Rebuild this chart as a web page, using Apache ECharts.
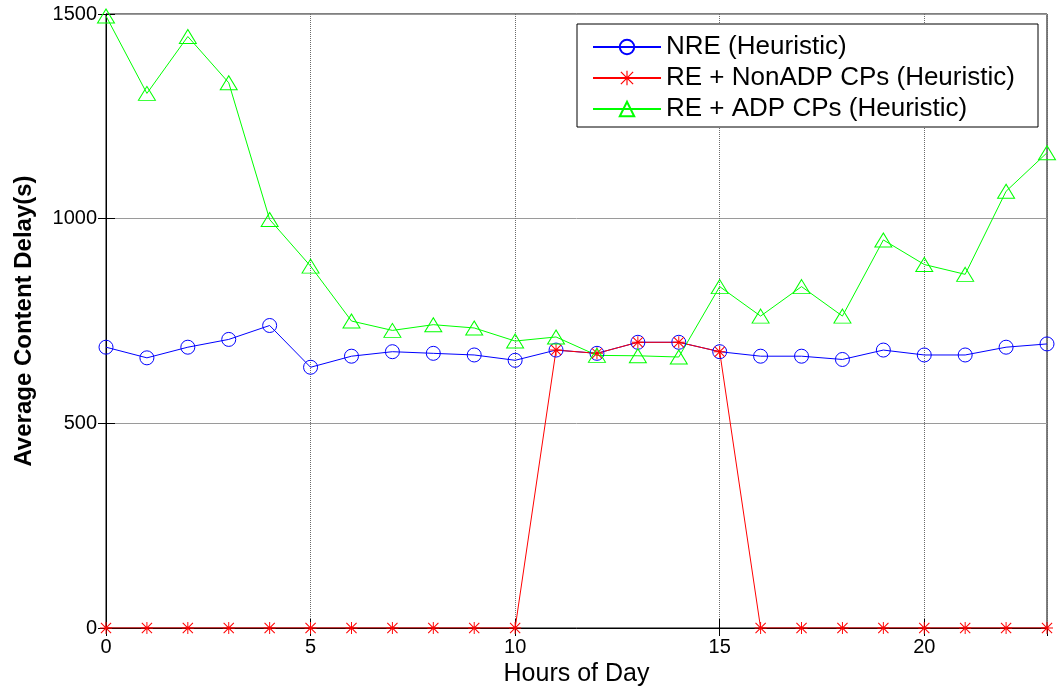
<!DOCTYPE html>
<html>
<head>
<meta charset="utf-8">
<script src="https://cdn.jsdelivr.net/npm/echarts@6/dist/echarts.min.js"></script>
<style>
html,body{margin:0;padding:0;background:#fff;}
#chart{width:1057px;height:694px;}
</style>
</head>
<body>
<div id="chart"></div>
<script>
// ---- data ----
var hours = [0,1,2,3,4,5,6,7,8,9,10,11,12,13,14,15,16,17,18,19,20,21,22,23];
var nreHeuristic = [686,660,686,705,739,637,664,675,671,667,654,679,671,698,698,675,664,664,656,679,667,667,686,694];
var reNonAdp = [0,0,0,0,0,0,0,0,0,0,0,679,671,698,698,675,0,0,0,0,0,0,0,0];
var reAdp = [1495,1306,1445,1332,998,884,750,727,741,733,701,711,666,665,662,834,762,834,762,948,888,864,1067,1161];
var seriesNames = ['NRE (Heuristic)', 'RE + NonADP CPs (Heuristic)', 'RE + ADP CPs (Heuristic)'];
var xTicks = [0,5,10,15,20];
var yTicks = [0,500,1000,1500];

function pairs(vals){ return hours.map(function(h,i){ return [h, vals[i]]; }); }

var starPath = 'path://M9.2,0L10.8,0L10.8,20L9.2,20Z M0,9.2L20,9.2L20,10.8L0,10.8Z M2.1,0.9L19.1,17.9L17.9,19.1L0.9,2.1Z M17.9,0.9L19.1,2.1L2.1,19.1L0.9,17.9Z';
var FONT = 'Arial, "Liberation Sans", Helvetica, sans-serif';

var chart = echarts.init(document.getElementById('chart'), null, {renderer:'canvas'});
var option = {
  backgroundColor:'#ffffff',
  animation:false,
  grid:{left:106, right:10, top:14, bottom:66, show:true, borderColor:'#000', borderWidth:1, backgroundColor:'transparent'},
  legend:{
    orient:'vertical', left:577, top:24,
    backgroundColor:'#fff', borderColor:'#000', borderWidth:1,
    padding:[10,12,5,15], itemGap:5, itemWidth:68, itemHeight:18,
    textStyle:{fontFamily:FONT, fontSize:26, color:'#000', lineHeight:26, width:360},
    data:seriesNames
  },
  xAxis:[{
    type:'value', min:0, max:23, interval:5, position:'bottom',
    name:'Hours of Day', nameLocation:'middle', nameGap:34,
    nameTextStyle:{fontFamily:FONT, fontSize:25, color:'#000'},
    axisLine:{show:true, lineStyle:{color:'#000', width:1}},
    axisTick:{show:true, inside:true, length:9, lineStyle:{color:'#000'}},
    axisLabel:{fontFamily:FONT, fontSize:20, color:'#000', margin:9, showMaxLabel:false,
      formatter:function(v){ return xTicks.indexOf(v) >= 0 ? String(v) : ''; }},
    splitLine:{show:true, lineStyle:{color:'#6a6a6a', width:1, type:[1,1]}}
  },{
    type:'value', min:0, max:23, interval:5, position:'top',
    axisLine:{show:false}, axisLabel:{show:false},
    axisTick:{show:true, inside:true, length:8, lineStyle:{color:'#000'}},
    splitLine:{show:false}
  }],
  yAxis:[{
    type:'value', min:0, max:1500, interval:500, position:'left',
    name:'Average Content Delay(s)', nameLocation:'middle', nameGap:70,
    nameTextStyle:{fontFamily:FONT, fontSize:24, fontWeight:'bold', color:'#000'},
    axisLine:{show:true, lineStyle:{color:'#000', width:1}},
    axisTick:{show:true, inside:true, length:9, lineStyle:{color:'#000'}},
    axisLabel:{fontFamily:FONT, fontSize:20, color:'#000', margin:9,
      formatter:function(v){ return yTicks.indexOf(v) >= 0 ? String(v) : ''; }},
    splitLine:{show:true, lineStyle:{color:'#9a9a9a', width:1, type:'solid'}}
  },{
    type:'value', min:0, max:1500, interval:500, position:'right',
    axisLine:{show:false}, axisLabel:{show:false},
    axisTick:{show:true, inside:true, length:8, lineStyle:{color:'#000'}},
    splitLine:{show:false}
  }],
  series:[{
    name:seriesNames[0], type:'line', data:pairs(nreHeuristic),
    symbol:'circle', symbolSize:14, showAllSymbol:true,
    color:'#0000ff',
    lineStyle:{color:'#0000ff', width:1},
    itemStyle:{color:'rgba(0,0,0,0)', borderColor:'#0000ff', borderWidth:1}
  },{
    name:seriesNames[1], type:'line', data:pairs(reNonAdp),
    symbol:starPath, symbolSize:12, showAllSymbol:true,
    color:'#ff0000',
    lineStyle:{color:'#ff0000', width:1},
    itemStyle:{color:'#ff0000', borderWidth:0}
  },{
    name:seriesNames[2], type:'line', data:pairs(reAdp),
    symbol:'triangle', symbolSize:[17,14], showAllSymbol:true,
    color:'#00ff00',
    lineStyle:{color:'#00ff00', width:1},
    itemStyle:{color:'rgba(0,0,0,0)', borderColor:'#00ff00', borderWidth:1}
  }]
};
chart.setOption(option);
</script>
</body>
</html>
